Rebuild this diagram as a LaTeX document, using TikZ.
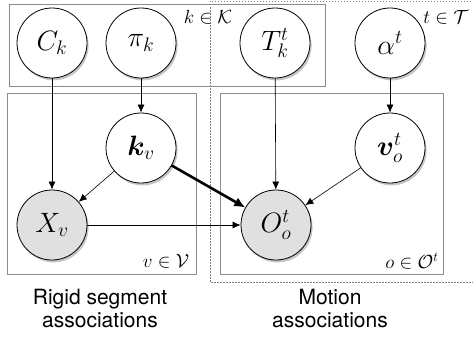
\RequirePackage{fix-cm}
\documentclass[tikz,border=0pt]{standalone}
\usepackage{amsmath}
\usepackage{bm}
\usepackage{fontspec}
\newfontfamily\etiq{TeX Gyre Heros}
\usetikzlibrary{arrows.meta, shadows}

\tikzset{
  var/.style={circle, draw, line width=0.8pt, fill=white, minimum size=70pt, inner sep=0pt,
    font=\fontsize{28}{32}\selectfont, drop shadow={shadow xshift=1.6pt, shadow yshift=-2.4pt, opacity=0.45}},
  obs/.style={var, fill=black!12},
  placa/.style={draw=black!45, line width=0.7pt},
  rotulo/.style={font=\fontsize{19}{22}\selectfont},
}

\begin{document}
\begin{tikzpicture}[x=1pt, y=-1pt, >={Latex[length=8pt, width=7pt]}, line width=0.6pt]
  \useasboundingbox (0,0) rectangle (473,337);
  % placas
  \draw[black!50, dash pattern=on 1.5pt off 1.5pt, line width=0.5pt] (480,1)--(210,1)--(210,282)--(480,282);
  \draw[placa] (9,4) rectangle (325,86);
  \draw[placa] (7,93) rectangle (196,274);
  \draw[placa] (220,93) rectangle (443,274);
  \node[rotulo] (lk) at (208,17) {$k\in\mathcal{K}$};
  \node[rotulo] (lt) at (446,17) {$t\in\mathcal{T}$};
  \node[rotulo] (lv) at (166,261) {$v\in\mathcal{V}$};
  \node[rotulo] (lo) at (412,261) {$o\in\mathcal{O}^t$};
  % variables
  \node[var] (C) at (52,43) {$C_k$};
  \node[var] (pi) at (141,43) {$\pi_k$};
  \node[var] (T) at (275,43) {$T_k^t$};
  \node[var] (alpha) at (390,43) {$\alpha^t$};
  \node[var] (kv) at (141,148) {$\bm{k}_v$};
  \node[var] (v) at (390,148) {$\bm{v}_o^t$};
  \node[obs] (X) at (52,225) {$X_v$};
  \node[obs] (O) at (276,225) {$O_o^t$};
  % aristas
  \draw[->] (C) -- (X);
  \draw[->] (pi) -- (kv);
  \draw[->] (kv) -- (X);
  \draw[->, line width=2.6pt, >={Latex[length=11pt, width=10pt]}] (kv) -- (O);
  \draw[->] (X) -- (O);
  \draw[->] (T) -- (O);
  \draw[->] (alpha) -- (v);
  \draw[->] (v) -- (O);
  % titulos
  \node[font=\etiq\fontsize{21}{23}\selectfont, align=center] (rig) at (100,308) {Rigid segment\\associations};
  \node[font=\etiq\fontsize{21}{23}\selectfont, align=center] (mov) at (330,308) {Motion\\associations};
\end{tikzpicture}
\end{document}
